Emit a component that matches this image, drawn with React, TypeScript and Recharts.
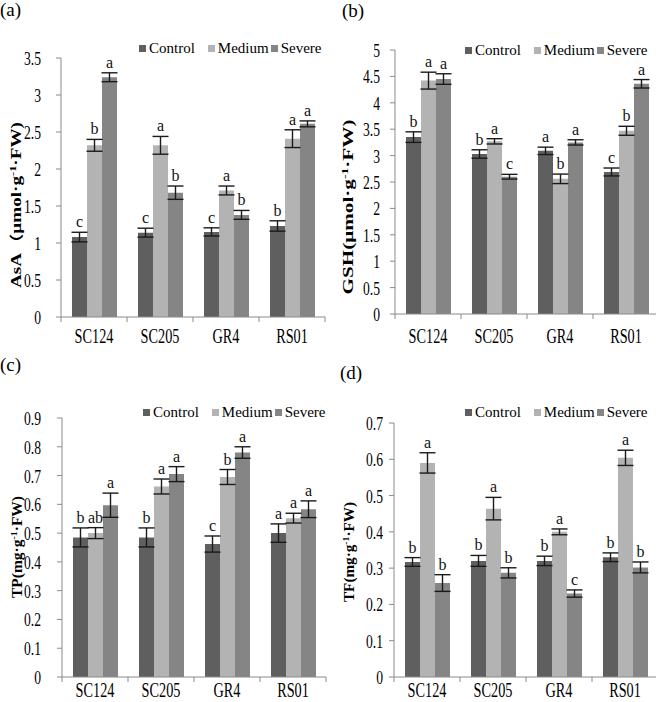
import React from 'react'
import { BarChart, Bar, XAxis, YAxis, ErrorBar, LabelList } from 'recharts'

// --- data ---
const CATEGORIES = ['SC124', 'SC205', 'GR4', 'RS01']
const SERIES = ['Control', 'Medium', 'Severe']

// (a) AsA
const ASA_CONTROL = [1.08, 1.14, 1.15, 1.23]
const ASA_MEDIUM = [2.32, 2.32, 1.71, 2.41]
const ASA_SEVERE = [3.24, 1.68, 1.38, 2.61]
const ASA_ERR_CONTROL = [0.065, 0.06, 0.055, 0.07]
const ASA_ERR_MEDIUM = [0.08, 0.12, 0.06, 0.12]
const ASA_ERR_SEVERE = [0.06, 0.09, 0.06, 0.04]
const ASA_SIG_CONTROL = ['c', 'c', 'c', 'b']
const ASA_SIG_MEDIUM = ['b', 'a', 'a', 'a']
const ASA_SIG_SEVERE = ['a', 'b', 'b', 'a']
const ASA_TICKS = [0, 0.5, 1, 1.5, 2, 2.5, 3, 3.5]

// (b) GSH
const GSH_CONTROL = [3.35, 3.03, 3.09, 2.69]
const GSH_MEDIUM = [4.42, 3.27, 2.56, 3.47]
const GSH_SEVERE = [4.45, 2.6, 3.25, 4.36]
const GSH_ERR_CONTROL = [0.1, 0.08, 0.07, 0.075]
const GSH_ERR_MEDIUM = [0.16, 0.05, 0.09, 0.085]
const GSH_ERR_SEVERE = [0.1, 0.045, 0.05, 0.08]
const GSH_SIG_CONTROL = ['b', 'b', 'a', 'c']
const GSH_SIG_MEDIUM = ['a', 'a', 'b', 'b']
const GSH_SIG_SEVERE = ['a', 'c', 'a', 'a']
const GSH_TICKS = [0, 0.5, 1, 1.5, 2, 2.5, 3, 3.5, 4, 4.5, 5]

// (c) TP
const TP_CONTROL = [0.485, 0.485, 0.462, 0.5]
const TP_MEDIUM = [0.5, 0.662, 0.695, 0.552]
const TP_SEVERE = [0.597, 0.705, 0.78, 0.583]
const TP_ERR_CONTROL = [0.033, 0.033, 0.028, 0.032]
const TP_ERR_MEDIUM = [0.019, 0.026, 0.026, 0.017]
const TP_ERR_SEVERE = [0.042, 0.026, 0.02, 0.029]
const TP_SIG_CONTROL = ['b', 'b', 'c', 'a']
const TP_SIG_MEDIUM = ['ab', 'a', 'b', 'a']
const TP_SIG_SEVERE = ['a', 'a', 'a', 'a']
const TP_TICKS = [0, 0.1, 0.2, 0.3, 0.4, 0.5, 0.6, 0.7, 0.8, 0.9]

// (d) TF
const TF_CONTROL = [0.317, 0.32, 0.32, 0.33]
const TF_MEDIUM = [0.59, 0.464, 0.4, 0.604]
const TF_SEVERE = [0.259, 0.287, 0.23, 0.302]
const TF_ERR_CONTROL = [0.012, 0.015, 0.013, 0.012]
const TF_ERR_MEDIUM = [0.028, 0.031, 0.008, 0.021]
const TF_ERR_SEVERE = [0.023, 0.014, 0.01, 0.015]
const TF_SIG_CONTROL = ['b', 'b', 'b', 'b']
const TF_SIG_MEDIUM = ['a', 'a', 'a', 'a']
const TF_SIG_SEVERE = ['b', 'b', 'c', 'b']
const TF_TICKS = [0, 0.1, 0.2, 0.3, 0.4, 0.5, 0.6, 0.7]

// --- styling ---
const FILL = { c: '#5f5f5f', m: '#b3b3b3', s: '#858585' }
const KEYS = ['c', 'm', 's'] as const
const AXIS = '#8a8a8a'
const SERIF = '"Liberation Serif", "Times New Roman", serif'
const TITLE_FONT = '"Liberation Serif", "Noto Sans CJK SC", serif'

function rows(v: number[][], e: number[][], sig: string[][]) {
  return CATEGORIES.map((name, i) => ({
    name,
    c: v[0][i], m: v[1][i], s: v[2][i],
    ce: e[0][i], me: e[1][i], se: e[2][i],
    cl: sig[0][i], ml: sig[1][i], sl: sig[2][i],
  }))
}

const PANELS = [
  {
    id: '(a)', left: 0, top: 0, width: 328, height: 350, yw: 61, mt: 58, mr: 3, xh: 33, tm: 15, lb: 26,
    ticks: ASA_TICKS, legend: [139, 48], tag: [0, 0],
    title: { pre: 'AsA（μmol·g', sup: '-1', post: '·FW)', x: 20.5, y: 205, len: 166 },
    data: rows([ASA_CONTROL, ASA_MEDIUM, ASA_SEVERE], [ASA_ERR_CONTROL, ASA_ERR_MEDIUM, ASA_ERR_SEVERE], [ASA_SIG_CONTROL, ASA_SIG_MEDIUM, ASA_SIG_SEVERE]),
  },
  {
    id: '(b)', left: 328, top: 0, width: 333, height: 350, yw: 67, mt: 50, mr: 2, xh: 36, tm: 10, lb: 29,
    ticks: GSH_TICKS, legend: [465, 50], tag: [342, 1],
    title: { pre: 'GSH(μmol·g', sup: '-1', post: '·FW)', x: 353, y: 207, len: 175 },
    data: rows([GSH_CONTROL, GSH_MEDIUM, GSH_SEVERE], [GSH_ERR_CONTROL, GSH_ERR_MEDIUM, GSH_ERR_SEVERE], [GSH_SIG_CONTROL, GSH_SIG_MEDIUM, GSH_SIG_SEVERE]),
  },
  {
    id: '(c)', left: 0, top: 350, width: 328, height: 352, yw: 62, mt: 68, mr: 2, xh: 25, tm: 16, lb: 20,
    ticks: TP_TICKS, legend: [143, 412], tag: [0, 355],
    title: { pre: 'TP(mg·g', sup: '-1', post: '·FW)', x: 21.5, y: 547, len: 102 },
    data: rows([TP_CONTROL, TP_MEDIUM, TP_SEVERE], [TP_ERR_CONTROL, TP_ERR_MEDIUM, TP_ERR_SEVERE], [TP_SIG_CONTROL, TP_SIG_MEDIUM, TP_SIG_SEVERE]),
  },
  {
    id: '(d)', left: 328, top: 350, width: 333, height: 352, yw: 66, mt: 73, mr: 3, xh: 25, tm: 6, lb: 20,
    ticks: TF_TICKS, legend: [465, 412], tag: [340, 363],
    title: { pre: 'TF(mg·g', sup: '-1', post: '·FW)', x: 354, y: 552, len: 100 },
    data: rows([TF_CONTROL, TF_MEDIUM, TF_SEVERE], [TF_ERR_CONTROL, TF_ERR_MEDIUM, TF_ERR_SEVERE], [TF_SIG_CONTROL, TF_SIG_MEDIUM, TF_SIG_SEVERE]),
  },
]

// axis labels in the figure are tall and narrow, so squeeze them horizontally
function YTick({ x, y, payload }: any) {
  return (
    <text transform={`translate(${x},${y}) scale(0.7,1)`} textAnchor="end" dy="0.36em"
      fontSize={19.5} fontFamily={SERIF} fill="#000">
      {String(payload.value)}
    </text>
  )
}

// category label + Excel-style tick marks on the category boundaries
function XTick({ x, y, payload, index, half, base }: any) {
  const last = index === CATEGORIES.length - 1
  return (
    <g>
      <line x1={x - half} x2={x - half} y1={y} y2={y + 5} stroke={AXIS} />
      {last && <line x1={x + half} x2={x + half} y1={y} y2={y + 5} stroke={AXIS} />}
      <text transform={`translate(${x},${y + base}) scale(0.68,1)`} textAnchor="middle"
        fontSize={21} fontFamily={SERIF} fill="#000">
        {payload.value}
      </text>
    </g>
  )
}

function Legend({ x, y }: { x: number; y: number }) {
  const gaps = [13, 2, 0]
  return (
    <div style={{ position: 'absolute', left: x, top: y - 9, height: 18, display: 'flex', alignItems: 'center', fontFamily: SERIF, fontSize: 15, lineHeight: 1, whiteSpace: 'nowrap' }}>
      {SERIES.map((name, i) => (
        <div key={name} style={{ display: 'flex', alignItems: 'center', marginRight: gaps[i] }}>
          <span style={{ width: 7, height: 7, background: FILL[KEYS[i]], display: 'inline-block', marginRight: 3 }} />
          <span>{name}</span>
        </div>
      ))}
    </div>
  )
}

function Panel({ p }: { p: typeof PANELS[number] }) {
  const plotW = p.width - p.yw - p.mr
  const half = plotW / CATEGORIES.length / 2
  const max = p.ticks[p.ticks.length - 1]
  return (
    <div style={{ position: 'absolute', left: p.left, top: p.top, width: p.width, height: p.height }}>
      <BarChart width={p.width} height={p.height} data={p.data}
        margin={{ top: p.mt, right: p.mr, bottom: 0, left: 0 }} barCategoryGap={11} barGap={0}>
        <XAxis dataKey="name" height={p.xh} interval={0} tickLine={false} tickSize={0} tickMargin={0}
          axisLine={{ stroke: AXIS }} tick={(t: any) => <XTick {...t} half={half} base={p.lb} />} />
        <YAxis width={p.yw} domain={[0, max]} ticks={p.ticks} interval={0} allowDataOverflow
          tickSize={5} tickMargin={p.tm} tickLine={{ stroke: AXIS }} axisLine={{ stroke: AXIS }}
          tick={<YTick />} />
        {KEYS.flatMap((k) => [
          <Bar key={k} dataKey={k} stackId={k} fill={FILL[k]} isAnimationActive={false}>
            <ErrorBar dataKey={`${k}e`} width={8} stroke="#1a1a1a" strokeWidth={1.4} direction="y" isAnimationActive={false} />
          </Bar>,
          // invisible cap of height = error, so the letter sits above the whisker
          <Bar key={`${k}-top`} dataKey={`${k}e`} stackId={k} fill="transparent" legendType="none" isAnimationActive={false}>
            <LabelList dataKey={`${k}l`} position="top" offset={5} fill="#111" fontSize={16} fontFamily={SERIF} />
          </Bar>,
        ])}
      </BarChart>
      <Legend x={p.legend[0] - p.left} y={p.legend[1] - p.top} />
      <div style={{ position: 'absolute', left: p.tag[0] - p.left, top: p.tag[1] - p.top, fontFamily: SERIF, fontSize: 19, lineHeight: 1 }}>
        {p.id}
      </div>
    </div>
  )
}

export default function App() {
  return (
    <div style={{ position: 'absolute', left: 0, top: 0, width: 656, height: 702, overflow: 'hidden', background: '#fff' }}>
      {PANELS.map((p) => <Panel key={p.id} p={p} />)}
      <svg width={656} height={702} style={{ position: 'absolute', left: 0, top: 0, pointerEvents: 'none' }}>
        {PANELS.map((p) => (
          <text key={p.id} transform={`translate(${p.title.x},${p.title.y}) rotate(-90)`} textAnchor="middle"
            fontSize={14} fontWeight="bold" fontFamily={TITLE_FONT} fill="#000"
            textLength={p.title.len} lengthAdjust="spacingAndGlyphs">
            <tspan>{p.title.pre}</tspan>
            <tspan fontSize={9} dy={-5}>{p.title.sup}</tspan>
            <tspan dy={5}>{p.title.post}</tspan>
          </text>
        ))}
      </svg>
    </div>
  )
}
